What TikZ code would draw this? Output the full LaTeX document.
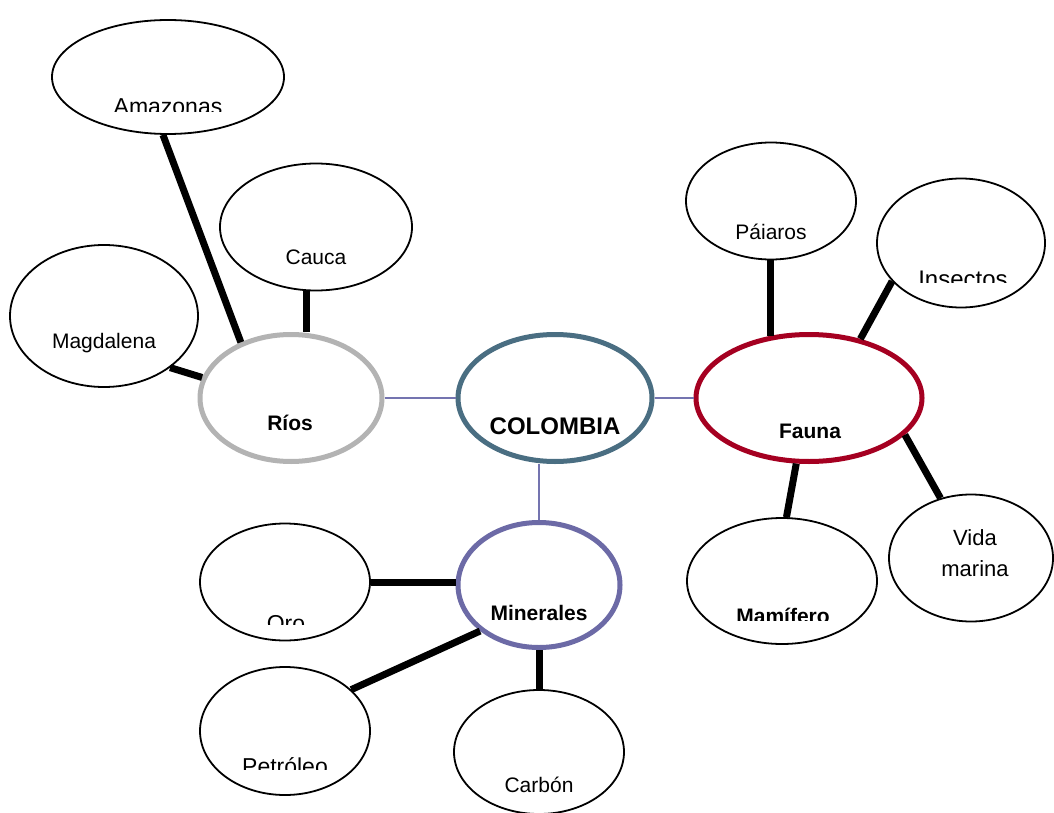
\documentclass[tikz,border=0pt]{standalone}
\usepackage{fontspec}
\setmainfont{Liberation Sans}
\usetikzlibrary{shapes.geometric}
\definecolor{riosgray}{HTML}{B3B3B3}
\definecolor{colteal}{HTML}{4A6E82}
\definecolor{faunared}{HTML}{A50021}
\definecolor{minpurple}{HTML}{6C6AA6}
\definecolor{linkpurple}{HTML}{7474B0}

\begin{document}
\begin{tikzpicture}[x=1pt,y=-1pt,
  bubble/.style={ellipse, draw=black, fill=white, line width=1.8pt, inner sep=0pt},
  hub/.style={ellipse, fill=white, line width=5pt, inner sep=0pt},
  lbl/.style={anchor=base, inner sep=0pt, font=\fontsize{21}{25}\selectfont},
  biglbl/.style={anchor=base, inner sep=0pt, font=\fontsize{23}{27}\selectfont},
  blbl/.style={lbl, font=\fontsize{21}{25}\selectfont\bfseries},
  spoke/.style={line width=7pt, black},
  link/.style={line width=1.5pt, linkpurple}]

\useasboundingbox (0,0) rectangle (1054,813);

% outer bubbles
\node[bubble, minimum width=232pt, minimum height=114pt] (amazonas) at (168,77) {};
\node[bubble, minimum width=192pt, minimum height=127pt] (cauca) at (316,227) {};
\node[bubble, minimum width=188pt, minimum height=142pt] (magdalena) at (104,316) {};
\node[bubble, minimum width=170pt, minimum height=117pt] (paiaros) at (771,201) {};
\node[bubble, minimum width=168pt, minimum height=129pt] (insectos) at (961,243) {};
\node[bubble, minimum width=190pt, minimum height=126pt] (mamifero) at (782,581) {};
\node[bubble, minimum width=164pt, minimum height=127pt] (vida) at (971,558) {};
\node[bubble, minimum width=170pt, minimum height=117pt] (oro) at (285,582) {};
\node[bubble, minimum width=170pt, minimum height=128pt] (petroleo) at (285,731) {};
\node[bubble, minimum width=170pt, minimum height=124pt] (carbon) at (539,752) {};

% hubs
\node[hub, draw=riosgray, minimum width=182pt, minimum height=127pt] (rios) at (291,398) {};
\node[hub, draw=colteal, minimum width=194pt, minimum height=127pt] (colombia) at (555,398) {};
\node[hub, draw=faunared, minimum width=226pt, minimum height=127pt] (fauna) at (809,398) {};
\node[hub, draw=minpurple, minimum width=162pt, minimum height=125pt] (minerales) at (539,585) {};

% thin links between the hubs
\draw[link] (rios.east) -- (colombia.west);
\draw[link] (colombia.east) -- (fauna.west);
\draw[link] (colombia.south -| minerales.north) -- (minerales.north);

% thick spokes
\draw[spoke] (amazonas.-95) -- (rios.132);
\draw[spoke] (cauca.-98) -- (rios.north -| cauca.-98);
\draw[spoke] (magdalena.-38) -- (rios.167);
\draw[spoke] (paiaros.south -| fauna.122) -- (fauna.122);
\draw[spoke] (insectos.209) -- (fauna.49);
\draw[spoke] (fauna.-101) -- (mamifero.86);
\draw[spoke] (fauna.-21.5) -- (vida.117);
\draw[spoke] (oro.east) -- (oro.east -| minerales.west);
\draw[spoke] (minerales.218) -- (petroleo.32);
\draw[spoke] (minerales.south) -- (carbon.north);

% labels
\node[lbl] (caucaT) at (316,264) {Cauca};
\node[lbl] (magdalenaT) at (104,348) {Magdalena};
\node[lbl] (paiarosT) at (771,239) {Páiaros};
\node[lbl] (carbonT) at (539,792) {Carbón};
\node[align=center, inner sep=0pt, font=\fontsize{22}{31}\selectfont] (vidaT) at (975,553) {Vida\\marina};
\node[blbl] (riosT) at (290,430) {Ríos};
\node[blbl, font=\fontsize{24}{28}\selectfont\bfseries] (colombiaT) at (555,434) {COLOMBIA};
\node[blbl] (faunaT) at (810,438) {Fauna};
\node[blbl] (mineralesT) at (539,620) {Minerales};

% labels cut off by their text frames
\begin{scope}
  \clip (50,0) rectangle (290,111.5);
  \node[biglbl] (amazonasT) at (168,114.5) {Amazonas};
\end{scope}
\begin{scope}
  \clip (870,170) rectangle (1054,282.5);
  \node[biglbl, font=\fontsize{24}{28}\selectfont] (insectosT) at (963,287) {Insectos};
\end{scope}
\begin{scope}
  \clip (680,500) rectangle (880,620);
  \node[blbl] (mamiferoT) at (783,623) {Mamífero};
\end{scope}
\begin{scope}
  \clip (195,520) rectangle (375,624);
  \node[biglbl] (oroT) at (286,631.5) {Oro};
\end{scope}
\begin{scope}
  \clip (195,660) rectangle (375,769);
  \node[biglbl] (petroleoT) at (285,774.5) {Petróleo};
\end{scope}
\end{tikzpicture}
\end{document}
